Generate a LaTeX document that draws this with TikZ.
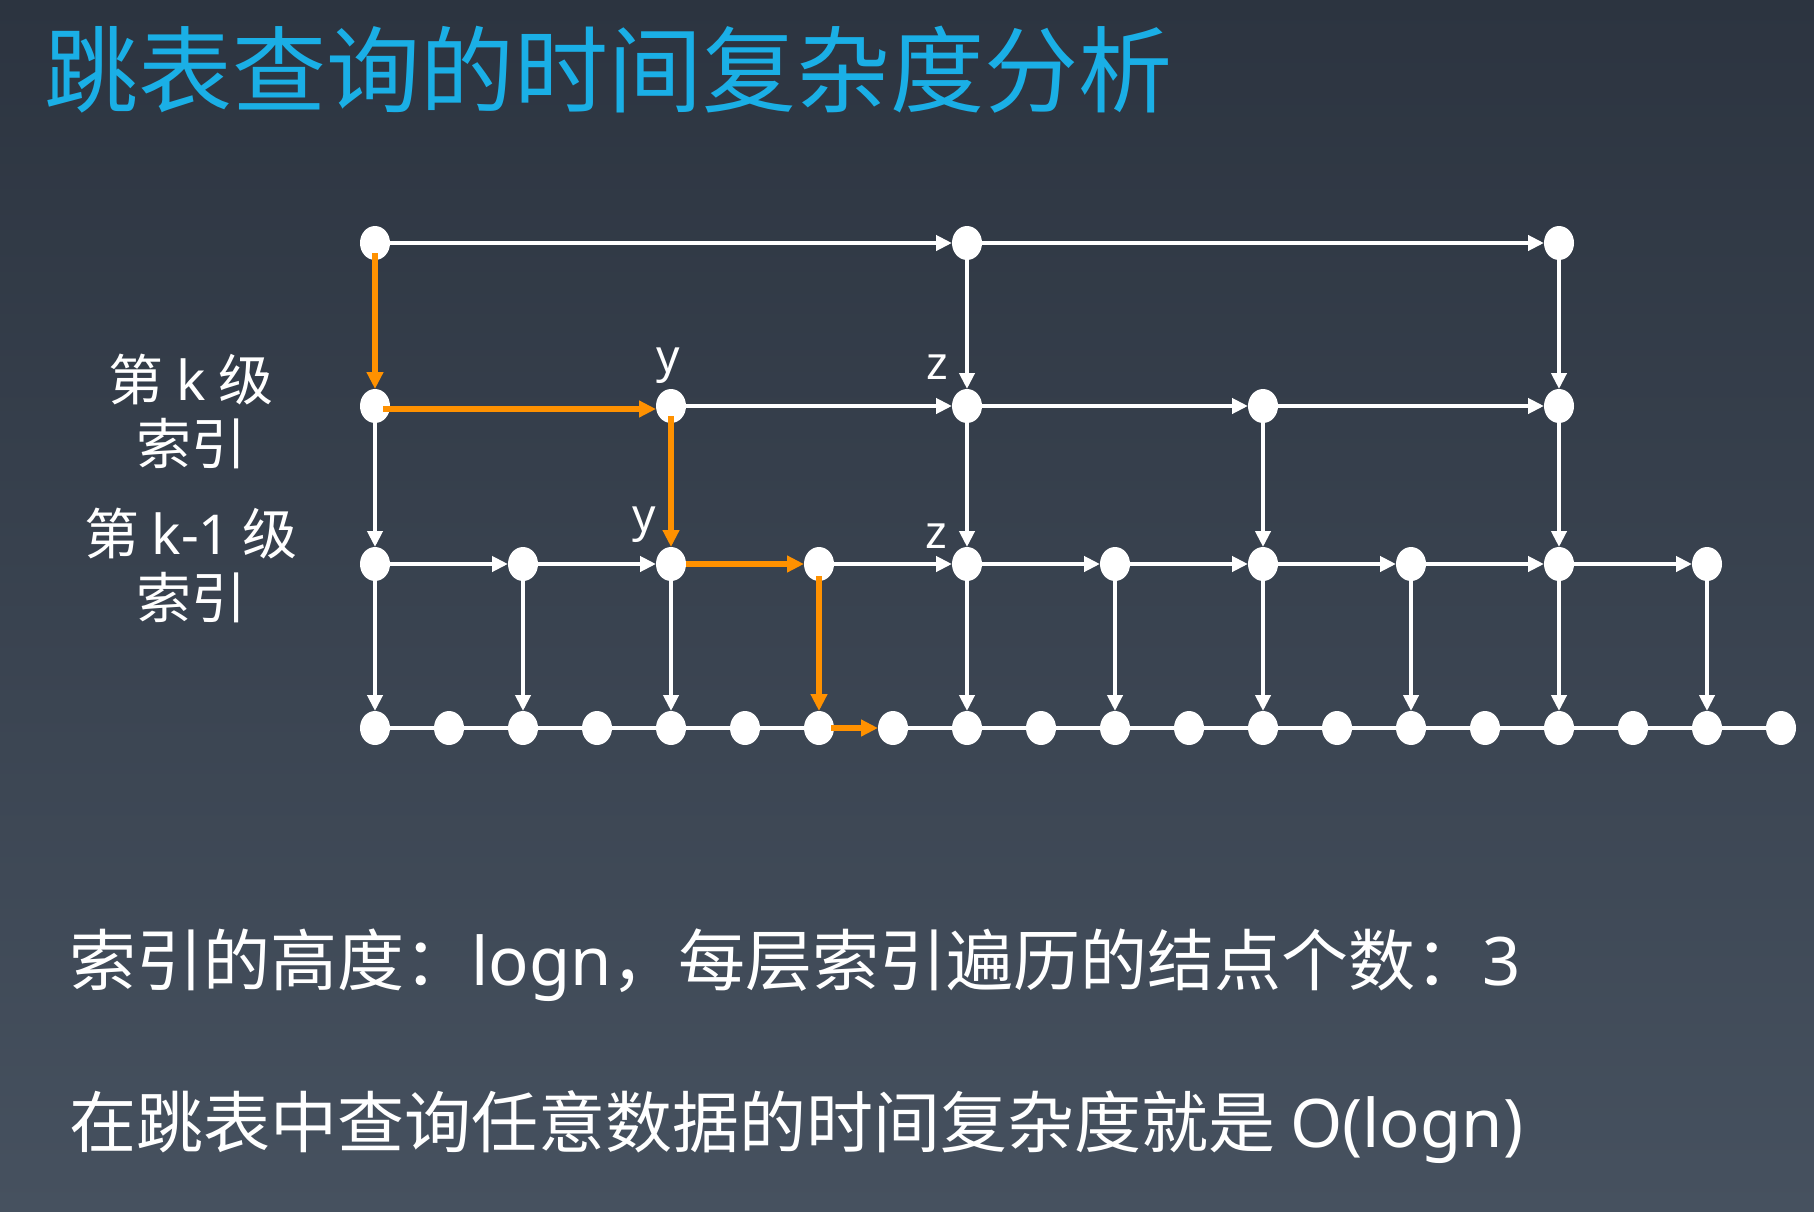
\documentclass[tikz,border=0pt]{standalone}
\usepackage{fontspec}
\usetikzlibrary{shapes.geometric,arrows.meta,calc}
\newfontfamily\cjk{Noto Sans CJK SC}
\newfontfamily\lat{Noto Sans}
\definecolor{titleblue}{RGB}{26,175,230}
\definecolor{bgtop}{RGB}{44,52,64}
\definecolor{bgbot}{RGB}{70,81,95}
\definecolor{pathorange}{RGB}{255,145,0}
\begin{document}
\begin{tikzpicture}[x=1pt,y=-1pt,
 dot/.style={ellipse,fill=white,minimum width=30pt,minimum height=34pt,inner sep=0pt,outer sep=0pt},
 warr/.style={draw=white,line width=4.5pt,-{Triangle[length=16pt,width=15pt]}},
 wline/.style={draw=white,line width=4.5pt},
 oarr/.style={draw=pathorange,line width=5.5pt,-{Triangle[length=17pt,width=16pt]}},
 lbl/.style={text=white,font=\fontsize{55}{60}\cjk,inner sep=0pt,anchor=base},
 letter/.style={text=white,font=\fontsize{46}{50}\lat,inner sep=0pt,anchor=base},
 bigtext/.style={text=white,font=\fontsize{67}{72}\cjk,inner sep=0pt,anchor=base west},
]
\shade[top color=bgtop,bottom color=bgbot] (0,0) rectangle (1814,1212);
\useasboundingbox (0,0) rectangle (1814,1212);

% title
\node[anchor=base west,inner sep=0pt,text=titleblue,font=\fontsize{94}{100}\cjk] (title) at (44,106) {跳表查询的时间复杂度分析};

% nodes
\foreach \i in {0,...,19} \node[dot] (d\i) at ({375+74*\i},728) {};
\foreach \i in {0,2,...,18} \node[dot] (c\i) at ({375+74*\i},564) {};
\foreach \i in {0,4,8,12,16} \node[dot] (b\i) at ({375+74*\i},406) {};
\foreach \i in {0,8,16} \node[dot] (a\i) at ({375+74*\i},243) {};

% bottom row links
\foreach \i [evaluate=\i as \j using int(\i+1)] in {0,...,5,7,8,...,18} \draw[wline] (d\i) -- (d\j);

% horizontal arrows
\draw[warr] (a0) -- (a8);
\draw[warr] (a8) -- (a16);
\draw[warr] (b4) -- (b8);
\draw[warr] (b8) -- (b12);
\draw[warr] (b12) -- (b16);
\draw[warr] (c0) -- (c2);
\draw[warr] (c2) -- (c4);
\foreach \i [evaluate=\i as \j using int(\i+2)] in {6,8,...,16} \draw[warr] (c\i) -- (c\j);

% vertical arrows
\draw[warr] (a8) -- (b8);
\draw[warr] (a16) -- (b16);
\draw[warr] (b0) -- (c0);
\foreach \i in {8,12,16} \draw[warr] (b\i) -- (c\i);
\foreach \i in {0,2,4,8,10,12,14,16,18} \draw[warr] (c\i) -- (d\i);

% search path
\draw[oarr] ($(a0)+(0,10)$) -- (b0);
\draw[oarr] ($(b0)+(8,3)$) -- ($(b4.west)+(0,3)$);
\draw[oarr] ($(b4)+(0,10)$) -- (c4);
\draw[oarr] (c4.east) -- (c6);
\draw[oarr] ($(c6)+(0,12)$) -- (d6);
\draw[oarr] ($(d6)+(12,0)$) -- (d7);

% letters
\node[letter] (y1) at (668,372) {y};
\node[letter] (z1) at (937,379) {z};
\node[letter] (y2) at (644,531) {y};
\node[letter] (z2) at (936,548) {z};

% level labels
\node[lbl] (l1) at (191,400) {第 {\lat k} 级};
\node[lbl] (l2) at (191,464) {索引};
\node[lbl] (l3) at (191,554) {第 {\lat k-1} 级};
\node[lbl] (l4) at (191,618) {索引};

% bottom texts
\node[bigtext] (t1) at (69,985) {索引的高度：{\lat logn}，每层索引遍历的结点个数：{\lat 3}};
\node[bigtext] (t2) at (69,1147) {在跳表中查询任意数据的时间复杂度就是 {\lat O(logn)}};
\end{tikzpicture}
\end{document}
